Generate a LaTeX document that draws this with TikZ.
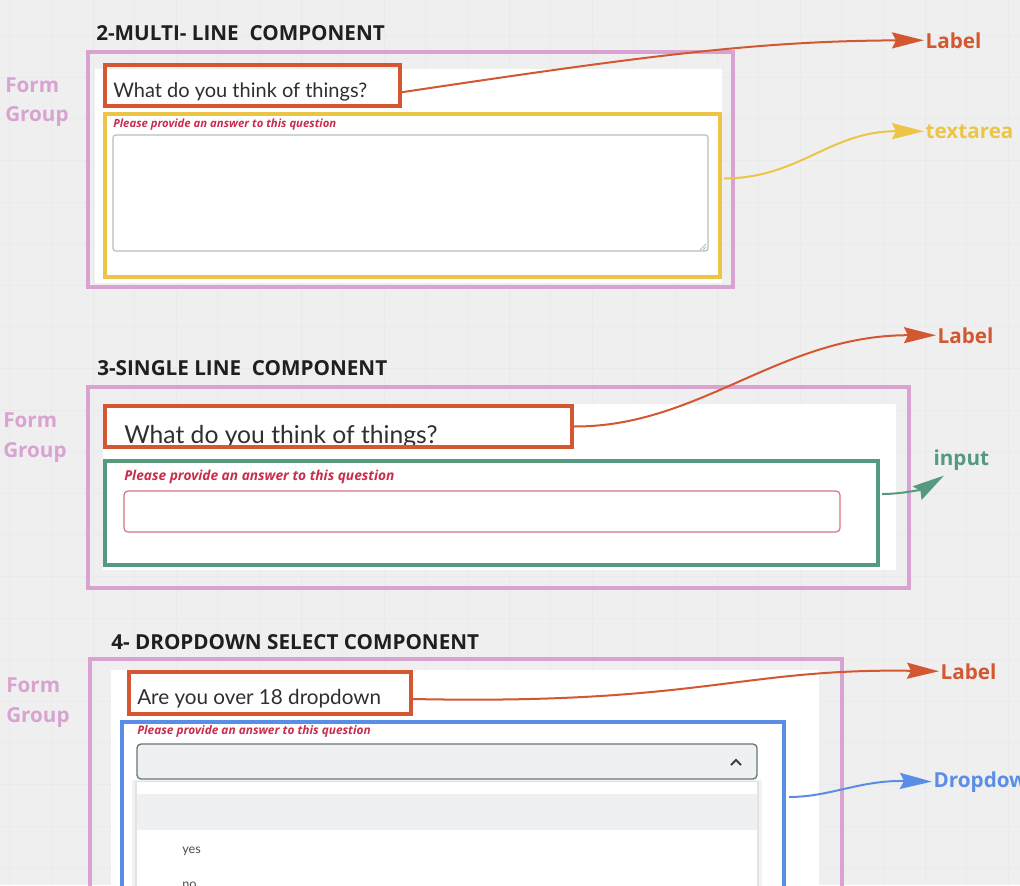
\documentclass[tikz,border=0pt]{standalone}
\usepackage{fontspec}
\setmainfont{Open Sans}
\newfontfamily\uifont{Lato}
\usetikzlibrary{arrows.meta,fit}

\definecolor{boardgray}{HTML}{EFEFEF}
\definecolor{gridgray}{HTML}{EAEAEA}
\definecolor{grppink}{HTML}{D9A3D1}
\definecolor{lblorange}{HTML}{D35730}
\definecolor{areayellow}{HTML}{ECC546}
\definecolor{inpgreen}{HTML}{55997F}
\definecolor{dropblue}{HTML}{5A8EE6}
\definecolor{hintred}{HTML}{C92D4C}
\definecolor{fieldgray}{HTML}{B9BEC3}
\definecolor{inputred}{HTML}{D8737F}
\definecolor{selgray}{HTML}{EFF0F1}
\definecolor{selborder}{HTML}{66767D}
\definecolor{qtext}{HTML}{2F2F2F}

\begin{document}
\begin{tikzpicture}[x=0.75pt,y=-0.75pt,
    grpbox/.style={draw=grppink,line width=3pt,inner sep=0pt},
    lblbox/.style={draw=lblorange,line width=3pt,inner sep=0pt},
    heading/.style={anchor=base west,inner sep=0pt,text=black!88,font=\bfseries\fontsize{15.5}{18}\selectfont},
    grpname/.style={anchor=base west,inner sep=0pt,text=grppink,font=\bfseries\fontsize{15.5}{18}\selectfont},
    tagname/.style={anchor=base west,inner sep=1pt,font=\bfseries\fontsize{15.5}{18}\selectfont},
    question/.style={anchor=base west,inner sep=0pt,text=qtext,font=\uifont\fontsize{15}{18}\selectfont},
    hint/.style={anchor=base west,inner sep=0pt,text=hintred,font=\bfseries\itshape\fontsize{8.5}{10}\selectfont},
    tagarrow/.style={line width=1.5pt,-{Stealth[length=24pt,width=12pt,inset=3pt]}}]
  \useasboundingbox (0,0) rectangle (1020,885);
  \clip (0,0) rectangle (1020,885);
  \fill[boardgray] (0,0) rectangle (1020,885);
  \foreach \gx in {9.8,51.4,...,1020} \draw[gridgray,line width=0.5pt] (\gx,0) -- (\gx,885);
  \foreach \gy in {35.6,77.2,...,885} \draw[gridgray,line width=0.5pt] (0,\gy) -- (1020,\gy);

  \fill[white] (95,69) rectangle (722,283);
  \draw[fieldgray,line width=0.9pt,rounded corners=2pt] (113,135) rectangle (708,251);
  \draw[fieldgray,line width=0.6pt] (700,250) -- (706,244) (703,250) -- (706,247);
  \node[hint] (hintA) at (113,127) {Please provide an answer to this question};
  \node[question] (qA) at (113,97) {What do you think of things?};
  \node[grpbox,fit={(88,52) (733,287)}] (grpA) {};
  \node[lblbox,fit={(105,65) (400,106)}] (lblA) {};
  \node[draw=areayellow,line width=3pt,inner sep=0pt,fit={(105,114) (720,277)}] (areaA) {};
  \node[heading] (headA) at (96,40) {2-MULTI- LINE~~COMPONENT};
  \node[grpname] (formA) at (5,92) {Form};
  \node[grpname] (groupA) at (5,121) {Group};
  \node[tagname,text=lblorange] (tagLblA) at (924,48) {Label};
  \node[tagname,text=areayellow] (tagArea) at (924,138) {textarea};
  \draw[tagarrow,lblorange] ([shift={(-2,7)}]lblA.east) .. controls (650,55) and (760,41) .. (tagLblA.west);
  \draw[tagarrow,areayellow] ([shift={(2,-17)}]areaA.east) .. controls (800,178) and (830,131) .. (tagArea.west);

  \fill[white] (103,404) rectangle (896,570);
  \draw[inputred,line width=0.9pt,rounded corners=3pt] (124,491) rectangle (840,532);
  \node[hint,font=\bfseries\itshape\fontsize{10.3}{12}\selectfont] (hintB) at (124,480) {Please provide an answer to this question};
  \node[question,font=\uifont\fontsize{18.5}{22}\selectfont] (qB) at (124,443) {What do you think of things?};
  \node[grpbox,fit={(88,387) (909,588)}] (grpB) {};
  \node[lblbox,fit={(105,406) (572,447)}] (lblB) {};
  \node[draw=inpgreen,line width=3pt,inner sep=0pt,fit={(105,461) (878,565)}] (inpB) {};
  \node[heading] (headB) at (97,375) {3-SINGLE LINE~~COMPONENT};
  \node[grpname] (formB) at (3,427) {Form};
  \node[grpname] (groupB) at (3,457) {Group};
  \node[tagname,text=lblorange] (tagLblB) at (936,343) {Label};
  \node[tagname,text=inpgreen] (tagInput) at (932,465) {input};
  \draw[tagarrow,lblorange] (lblB.east) .. controls (700,427) and (780,335) .. (tagLblB.west);
  \draw[tagarrow,inpgreen] ([shift={(2,-19)}]inpB.east) .. controls (905,494) and (925,488) .. ([shift={(12,4)}]tagInput.south west);

  \fill[white] (111,670) rectangle (819,890);
  \draw[selborder,fill=selgray,line width=1pt,rounded corners=3pt] (137,744) rectangle (757,779);
  \draw[black!75,line width=1.5pt] (731,765) -- (736,760) -- (741,765);
  \fill[black,opacity=0.05] (132,780) rectangle (762,890);
  \fill[black,opacity=0.06] (135,781) rectangle (759,890);
  \fill[white] (137,782) rectangle (757,890);
  \fill[selgray] (137,794) rectangle (757,830);
  \node[anchor=base west,inner sep=0pt,text=black!70,font=\uifont\fontsize{9.5}{11}\selectfont] (optYes) at (182,853) {yes};
  \node[anchor=base west,inner sep=0pt,text=black!70,font=\uifont\fontsize{9.5}{11}\selectfont] (optNo) at (182,888) {no};
  \node[hint,font=\bfseries\itshape\fontsize{8.9}{10}\selectfont] (hintC) at (137,734) {Please provide an answer to this question};
  \node[question,font=\uifont\fontsize{15.5}{18}\selectfont] (qC) at (137,704) {Are you over 18 dropdown};
  \node[grpbox,fit={(90,659) (842,900)}] (grpC) {};
  \node[lblbox,fit={(129,672) (411,714)}] (lblC) {};
  \node[draw=dropblue,line width=3pt,inner sep=0pt,fit={(122,722) (784,900)}] (dropC) {};
  \node[heading] (headC) at (111,649) {4- DROPDOWN SELECT COMPONENT};
  \node[grpname] (formC) at (6,692) {Form};
  \node[grpname] (groupC) at (6,722) {Group};
  \node[tagname,text=lblorange] (tagLblC) at (939,679) {Label};
  \node[tagname,text=dropblue] (tagDrop) at (932,787) {Dropdown};
  \draw[tagarrow,lblorange] ([shift={(0,6)}]lblC.east) .. controls (700,705) and (740,668) .. (tagLblC.west);
  \draw[tagarrow,dropblue] ([shift={(3,-14)}]dropC.east) .. controls (830,797) and (860,780) .. (tagDrop.west);
\end{tikzpicture}
\end{document}
